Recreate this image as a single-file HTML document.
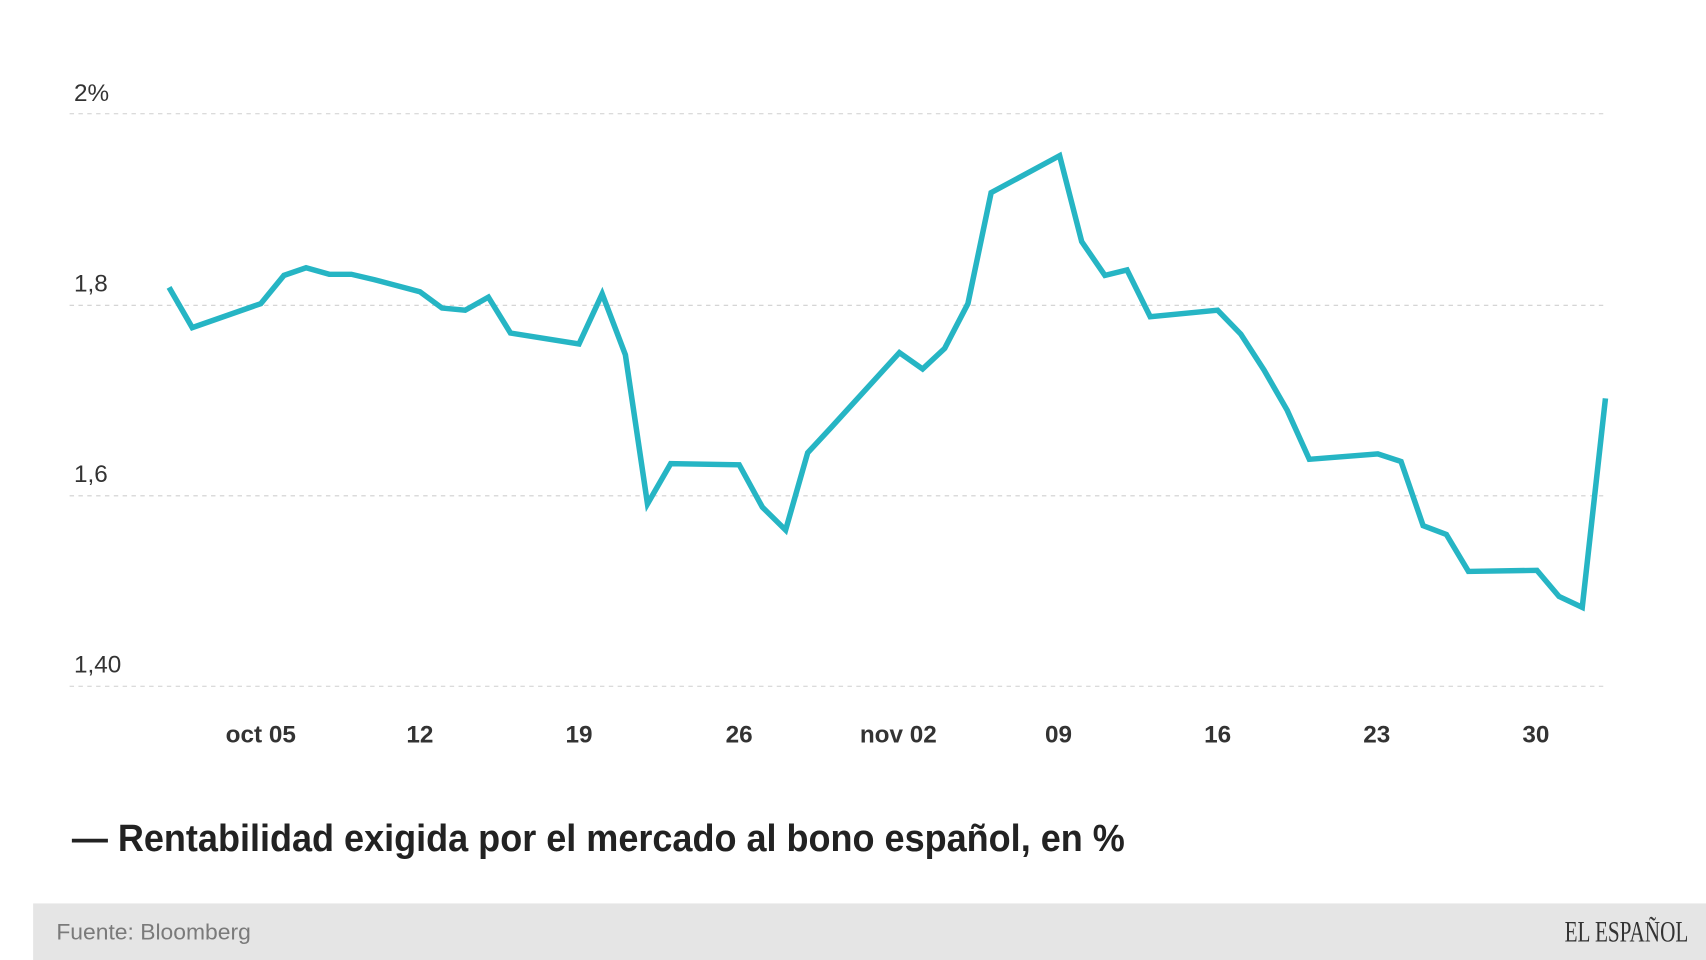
<!DOCTYPE html>
<html><head><meta charset="utf-8"><style>html,body{margin:0;padding:0;background:#fff;overflow:hidden}</style></head>
<body>
<svg width="1706" height="960" viewBox="0 0 1544 882" preserveAspectRatio="none" xmlns="http://www.w3.org/2000/svg" style="display:block">
<rect width="1544" height="882" fill="#fff"/>
<g stroke="#cfcfcf" stroke-width="1" stroke-dasharray="4,4">
<line x1="63" y1="104.5" x2="1452" y2="104.5"/>
<line x1="63" y1="280.5" x2="1452" y2="280.5"/>
<line x1="63" y1="455.5" x2="1452" y2="455.5"/>
<line x1="63" y1="630.5" x2="1452" y2="630.5"/>
</g>
<g font-family="Liberation Sans, sans-serif" font-size="22" fill="#333">
<text x="67" y="93">2%</text>
<text x="67" y="268">1,8</text>
<text x="67" y="443">1,6</text>
<text x="67" y="618">1,40</text>
</g>
<g font-family="Liberation Sans, sans-serif" font-size="22" font-weight="bold" fill="#333" text-anchor="middle">
<text x="236" y="682">oct 05</text>
<text x="380" y="682">12</text>
<text x="524" y="682">19</text>
<text x="669" y="682">26</text>
<text x="813" y="682">nov 02</text>
<text x="958" y="682">09</text>
<text x="1102" y="682">16</text>
<text x="1246" y="682">23</text>
<text x="1390" y="682">30</text>
</g>
<polyline fill="none" stroke="#26b5c4" stroke-width="5" stroke-linejoin="miter" points="153,264 174,301 236,279 257,253 277,246 298,252 318,252 339,257 380,268 400,283 421,285 442,273 462,306 524,316 545,270 566,326 586,463 607,426 669,427 690,466 711,487 731,416 752,393 814,324 835,339 855,320 876,279 897,177 959,143 979,222 1000,253 1020,248 1041,291 1102,285 1123,307 1144,340 1165,377 1185,422 1247,417 1268,424 1288,483 1309,491 1329,525 1391,524 1411,548 1432,558 1453,366"/>
<text x="65" y="782" font-family="Liberation Sans, sans-serif" font-size="35" font-weight="bold" fill="#222" textLength="953" lengthAdjust="spacingAndGlyphs">— Rentabilidad exigida por el mercado al bono español, en %</text>
<rect x="30" y="830" width="1514" height="52" fill="#e5e5e5"/>
<text x="51" y="863" font-family="Liberation Sans, sans-serif" font-size="20" fill="#7a7a7a" textLength="176" lengthAdjust="spacingAndGlyphs">Fuente: Bloomberg</text>
<text x="1528" y="865" text-anchor="end" font-family="Liberation Serif, serif" font-size="27" fill="#333" textLength="112" lengthAdjust="spacingAndGlyphs">EL ESPAÑOL</text>
</svg>
</body></html>
